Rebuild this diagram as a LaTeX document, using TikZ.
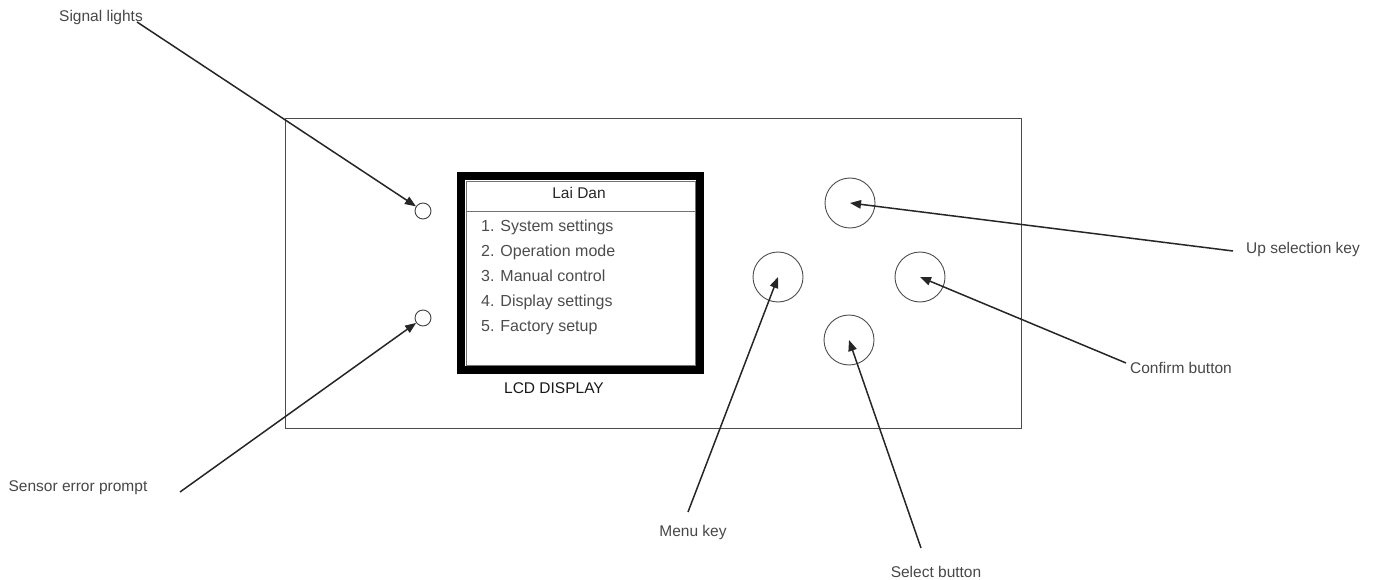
\documentclass[tikz,border=0pt]{standalone}
\usepackage{fontspec}
\setmainfont{Liberation Sans}
\usetikzlibrary{positioning, arrows.meta}

\tikzset{
  lbl/.style={text=black!72, font=\fontsize{15.5}{18}\selectfont, inner sep=0pt},
  pointer/.style={draw=black!85, line width=1.5pt, -{Triangle[length=11pt, width=8.5pt]}},
  button/.style={circle, draw=black!70, line width=0.9pt, minimum size=50pt, inner sep=0pt},
  lamp/.style={circle, draw=black!75, line width=0.9pt, minimum size=16pt, inner sep=0pt},
  menuitem/.style={text=black!70, font=\fontsize{16}{19}\selectfont, inner sep=0pt,
    text height=11.5pt, text depth=3.5pt, anchor=west}
}

\begin{document}
\begin{tikzpicture} [x=1pt, y=-1pt, node distance = 24.75pt, on grid]
        \useasboundingbox (0,0) rectangle (1384,580);

        % panel
        \draw [black!70, line width=0.9pt] (285,118) rectangle (1021,428);

        % lcd
        \draw [line width=8pt] (461,176) rectangle (700,370);
        \draw [black!55, line width=0.6pt] (466,181) rectangle (695,365);
        \draw [black!55, line width=0.8pt] (466,211) -- (695,211);
        \node (title) [lbl, text=black!85] at (579,193) {Lai Dan};
        \node (m1) [menuitem] at (481,228) {1. System settings};
        \node (m2) [menuitem, below = of m1.west, anchor=west] {2. Operation mode};
        \node (m3) [menuitem, below = of m2.west, anchor=west] {3. Manual control};
        \node (m4) [menuitem, below = of m3.west, anchor=west] {4. Display settings};
        \node (m5) [menuitem, below = of m4.west, anchor=west] {5. Factory setup};
        \node (lcdlbl) [lbl, text=black!90, font=\fontsize{15.5}{18}\selectfont] at (554,388) {LCD DISPLAY};

        % lamps and keys
        \node (sig) [lamp] at (423,211) {}; \node (sensor) [lamp] at (423,318) {};
        \node (up) [button] at (850,203) {}; \node (menu) [button] at (778,277) {};
        \node (confirm) [button] at (920,277) {}; \node (select) [button] at (849,340) {};

        % labels
        \node (siglbl) [lbl] at (101,17) {Signal lights};
        \node (sensorlbl) [lbl] at (78,488) {Sensor error prompt};
        \node (uplbl) [lbl] at (1303,249) {Up selection key};
        \node (conflbl) [lbl] at (1181,368) {Confirm button};
        \node (menulbl) [lbl] at (693,532) {Menu key};
        \node (sellbl) [lbl] at (936,572) {Select button};

        \coordinate (sigtail) at (137,22); \coordinate (sensortail) at (180,492);
        \coordinate (uptail) at (1233,251); \coordinate (conftail) at (1126,363);
        \coordinate (menutail) at (688,512); \coordinate (seltail) at (921,548);

        \draw [pointer] (sigtail) -- (sig);
        \draw [pointer] (sensortail) -- (sensor);
        \draw [pointer] (uptail) -- (up.center);
        \draw [pointer] (conftail) -- (confirm.center);
        \draw [pointer] (menutail) -- (menu.center);
        \draw [pointer] (seltail) -- (select.center);

    \end{tikzpicture}
\end{document}
